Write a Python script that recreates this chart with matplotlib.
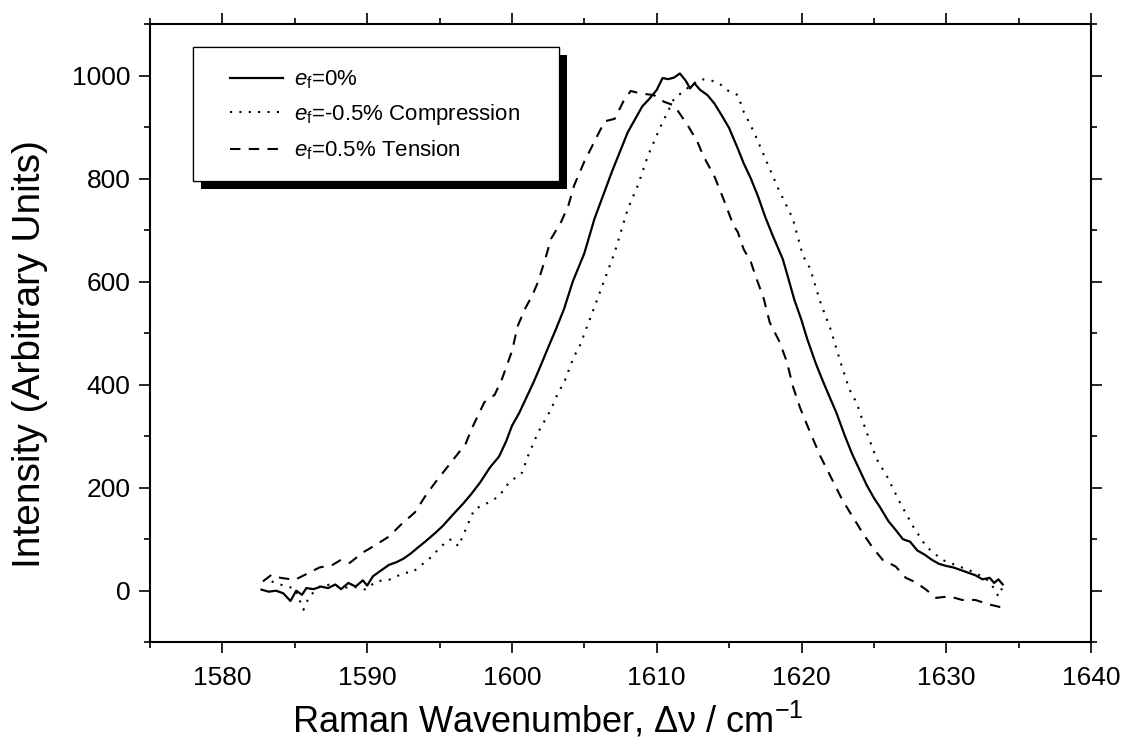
# region imports
import matplotlib
matplotlib.use("Agg")
import matplotlib.pyplot as plt
import matplotlib.patheffects as pe
from matplotlib.patches import Rectangle
from matplotlib.ticker import MultipleLocator
# endregion

# region data
# e_f = 0 %
wn_zero = [1582.7, 1583.2, 1583.7, 1584.2, 1584.7, 1585.1, 1585.5, 1585.8, 1586.3, 1586.8,
           1587.3, 1587.8, 1588.2, 1588.7, 1589.2, 1589.7, 1590.0, 1590.4, 1591.0, 1591.5,
           1592.0, 1592.5, 1593.0, 1593.6, 1594.0, 1594.7, 1595.2, 1596.0, 1596.6, 1597.2,
           1597.8, 1598.5, 1599.1, 1599.6, 1600.0, 1600.5, 1601.0, 1601.5, 1602.0, 1602.5,
           1603.0, 1603.6, 1604.2, 1605.0, 1605.7, 1606.4, 1606.9, 1607.5, 1608.0, 1608.5,
           1609.0, 1609.5, 1610.0, 1610.4, 1610.8, 1611.2, 1611.6, 1612.0, 1612.3, 1612.6,
           1613.0, 1613.5, 1614.0, 1614.5, 1615.0, 1615.6, 1616.0, 1616.5, 1617.0, 1617.5,
           1618.0, 1618.7, 1619.0, 1619.5, 1620.0, 1620.4, 1621.0, 1621.5, 1622.0, 1622.4,
           1623.0, 1623.5, 1624.0, 1624.5, 1625.0, 1625.4, 1626.0, 1626.5, 1627.0, 1627.5,
           1628.0, 1628.5, 1629.0, 1629.5, 1630.0, 1630.5, 1631.0, 1631.5, 1632.0, 1632.5,
           1633.0, 1633.3, 1633.6, 1633.9]
int_zero = [2, -2, 0, -5, -20, 0, -8, 5, 3, 8,
            5, 12, 3, 15, 8, 20, 10, 28, 40, 50,
            55, 62, 72, 86, 95, 112, 125, 150, 168, 188,
            210, 240, 260, 290, 320, 345, 375, 405, 438, 472,
            505, 547, 600, 655, 722, 775, 813, 855, 890, 915,
            940, 955, 972, 995, 993, 996, 1004, 990, 975, 985,
            972, 962, 945, 922, 898, 858, 830, 800, 765, 725,
            690, 644, 615, 565, 525, 488, 440, 405, 372, 346,
            300, 265, 235, 205, 180, 163, 135, 118, 100, 95,
            78, 70, 60, 52, 48, 45, 40, 35, 30, 22,
            25, 15, 22, 12]

# e_f = -0.5 % compression
wn_comp = [1583.4, 1584.4, 1585.0, 1585.6, 1586.0, 1586.8, 1587.6, 1588.3, 1589.0, 1589.9,
           1590.6, 1591.5, 1592.6, 1593.1, 1594.5, 1594.7, 1595.6, 1595.9, 1596.3, 1597.4,
           1598.3, 1599.1, 1599.8, 1600.7, 1601.1, 1601.8, 1602.7, 1603.2, 1603.6, 1604.3,
           1604.6, 1605.9, 1607.1, 1608.0, 1608.7, 1609.4, 1610.3, 1611.2, 1612.1, 1613.0,
           1613.7, 1614.3, 1614.9, 1615.6, 1616.0, 1616.7, 1617.8, 1618.4, 1619.4, 1620.1,
           1620.6, 1621.3, 1622.0, 1622.7, 1623.3, 1623.8, 1624.5, 1625.2, 1625.9, 1626.8,
           1627.7, 1628.6, 1629.7, 1630.9, 1632.0, 1633.0, 1633.6, 1633.9]
int_comp = [18, 8, 5, -37, -11, 10, 12, 5, 8, 2,
            18, 21, 35, 35, 67, 74, 99, 99, 86, 158,
            170, 183, 210, 229, 261, 307, 352, 385, 404, 456,
            469, 566, 657, 741, 787, 845, 903, 955, 975, 993,
            991, 985, 971, 962, 930, 891, 819, 780, 722, 650,
            625, 560, 508, 443, 391, 365, 307, 255, 222, 171,
            125, 86, 60, 47, 35, 18, -11, 8]

# e_f = 0.5 % tension
wn_tens = [1582.8, 1583.4, 1584.0, 1585.0, 1586.0, 1586.7, 1587.6, 1588.2, 1588.8, 1589.7,
           1590.6, 1591.5, 1592.4, 1593.3, 1594.0, 1594.7, 1595.4, 1596.1, 1596.8, 1597.2,
           1597.7, 1598.1, 1598.8, 1599.3, 1600.0, 1600.4, 1600.9, 1601.4, 1601.8, 1602.3,
           1602.7, 1603.4, 1603.9, 1604.3, 1605.0, 1605.7, 1606.4, 1607.1, 1607.7, 1608.2,
           1608.9, 1609.8, 1610.5, 1611.2, 1612.1, 1612.8, 1613.2, 1614.0, 1614.6, 1615.3,
           1615.6, 1616.0, 1616.5, 1616.9, 1617.4, 1617.8, 1618.5, 1619.0, 1619.4, 1619.9,
           1620.6, 1621.3, 1622.0, 1622.8, 1623.5, 1624.2, 1624.9, 1625.6, 1626.5, 1627.2,
           1627.9, 1628.6, 1629.3, 1630.2, 1631.1, 1632.0, 1633.0, 1633.9]
int_tens = [18, 31, 25, 21, 35, 45, 50, 60, 54, 74,
            89, 105, 130, 152, 183, 210, 235, 260, 285, 313,
            343, 366, 380, 410, 465, 514, 547, 573, 599, 644,
            683, 716, 748, 787, 833, 872, 911, 916, 950, 970,
            965, 962, 949, 942, 905, 872, 845, 803, 761, 709,
            696, 663, 638, 605, 566, 521, 482, 443, 397, 355,
            307, 261, 222, 177, 145, 113, 84, 60, 47, 25,
            16, 2, -14, -11, -18, -18, -27, -33]

labels = [r'$e_\mathrm{f}$=0%', r'$e_\mathrm{f}$=-0.5% Compression', r'$e_\mathrm{f}$=0.5% Tension']
x_ticks = [1580, 1590, 1600, 1610, 1620, 1630, 1640]
y_ticks = [0, 200, 400, 600, 800, 1000]
# endregion

# region plot
plt.rcParams['font.family'] = ['Liberation Sans', 'DejaVu Sans']
plt.rcParams['mathtext.fontset'] = 'custom'
plt.rcParams['mathtext.rm'] = 'Liberation Sans'
plt.rcParams['mathtext.it'] = 'Liberation Sans:italic'

fig = plt.figure(figsize=(11.33, 7.45), dpi=100)
ax = fig.add_axes([0.1324, 0.138, 0.8306, 0.8298])

ax.plot(wn_zero, int_zero, color='black', lw=1.6, ls='-', label=labels[0])
ax.plot(wn_comp, int_comp, color='black', lw=1.5, ls=(0, (1, 3.5)), label=labels[1])
ax.plot(wn_tens, int_tens, color='black', lw=1.5, ls=(0, (5, 4)), label=labels[2])

ax.set_xlim(1575, 1640)
ax.set_ylim(-100, 1100)
ax.set_xticks(x_ticks)
ax.set_yticks(y_ticks)
ax.xaxis.set_minor_locator(MultipleLocator(5))
ax.yaxis.set_minor_locator(MultipleLocator(100))
ax.tick_params(which='both', direction='out', top=True, right=True, width=1.2,
               labelsize=19, colors='black')
ax.tick_params(which='major', length=8)
ax.tick_params(which='minor', length=4.5)
ax.tick_params(axis='x', pad=9)
ax.tick_params(axis='y', pad=6)
for sp in ax.spines.values():
    sp.set_linewidth(1.5)

ax.set_xlabel(r'Raman Wavenumber, Δν / cm$^{-1}$', fontsize=26)
ax.xaxis.set_label_coords(0.423, -0.094)
ax.set_ylabel('Intensity (Arbitrary Units)', fontsize=28)
ax.yaxis.set_label_coords(-0.108, 0.466)

# legend box with a solid black drop shadow
box = Rectangle((0.0457, 0.746), 0.389, 0.2168, transform=ax.transAxes,
                facecolor='white', edgecolor='black', linewidth=0.9, zorder=4)
box.set_path_effects([pe.withSimplePatchShadow(offset=(6, -6), shadow_rgbFace='black', alpha=1.0),
                      pe.Normal()])
ax.add_patch(box)

leg = ax.legend(loc='upper left', bbox_to_anchor=(0.085, 0.928), borderaxespad=0,
                fontsize=16, frameon=False, borderpad=0,
                handlelength=2.4, handletextpad=0.5, labelspacing=0.5)
leg.set_zorder(5)

fig.savefig('out.png', dpi=100)
# endregion
